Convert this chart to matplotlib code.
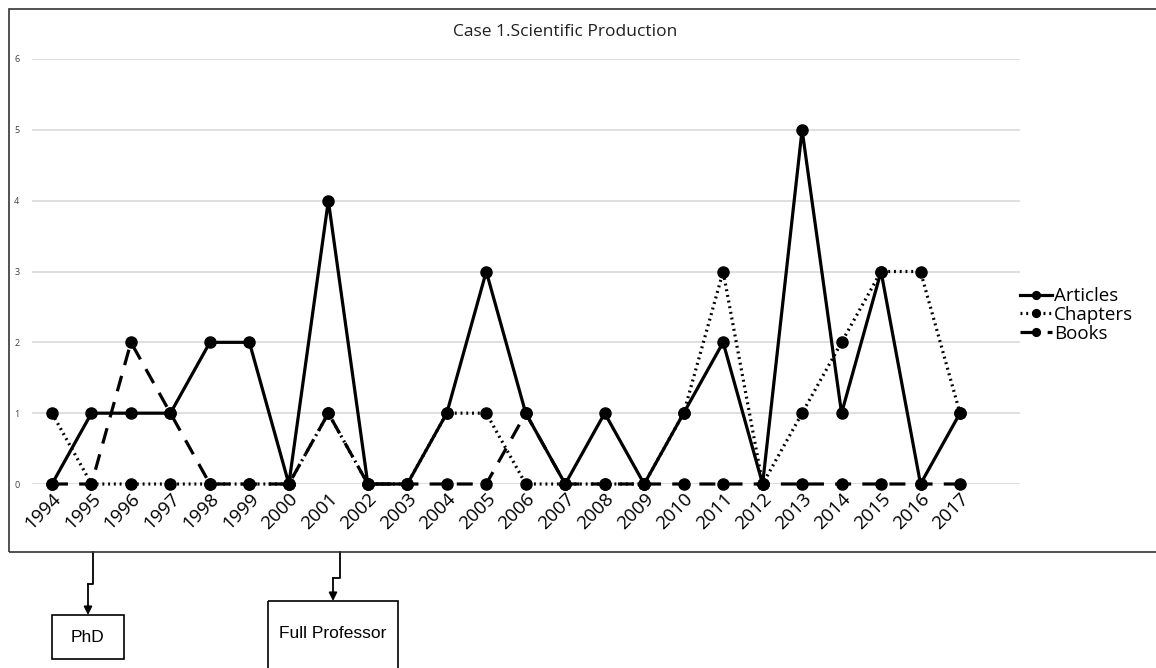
import matplotlib
matplotlib.use("Agg")
import matplotlib.pyplot as plt
from matplotlib.patches import Rectangle
import numpy as np

years    = list(range(1994, 2018))
articles = [0, 1, 1, 1, 2, 2, 0, 4, 0, 0, 1, 3, 1, 0, 1, 0, 1, 2, 0, 5, 1, 3, 0, 1]
chapters = [1, 0, 0, 0, 0, 0, 0, 1, 0, 0, 1, 1, 0, 0, 0, 0, 1, 3, 0, 1, 2, 3, 3, 1]
books    = [0, 0, 2, 1, 0, 0, 0, 1, 0, 0, 0, 0, 1, 0, 0, 0, 0, 0, 0, 0, 0, 0, 0, 0]
y_ticks  = [0, 1, 2, 3, 4, 5, 6]

W, H = 1156, 668
fig = plt.figure(figsize=(W / 100, H / 100), dpi=100)

# pixel helpers
def fx(px): return px / W
def fy(py): return 1 - py / H

# plot area: gridlines from x=32 to 1020, y0 at 484, y6 at 59
ax = fig.add_axes([fx(32), fy(484), fx(1020) - fx(32), fy(59) - fy(484)])
step = (960 - 52) / 23
ax.set_xlim(1994 - 20 / step, 1994 + (1020 - 52) / step)
ax.set_ylim(0, 6)

lw, ms = 2.3, 8
ax.plot(years, articles, color="black", lw=lw, marker="o", ms=ms, label="Articles",
        clip_on=False, zorder=5)
ax.plot(years, chapters, color="black", lw=lw, linestyle=(0, (0.6, 1.2)), marker="o", ms=ms,
        label="Chapters", clip_on=False, zorder=4)
ax.plot(years, books, color="black", lw=lw, linestyle=(0, (5, 3.5)), marker="o", ms=ms,
        label="Books", clip_on=False, zorder=3)

for s in ax.spines.values():
    s.set_visible(False)
ax.set_yticks(y_ticks)
ax.set_xticks(years)
ax.grid(axis="y", color="#d9d9d9", lw=1.2)
ax.set_axisbelow(True)
ax.tick_params(length=0)
ax.tick_params(axis="y", labelsize=6.5, pad=9, labelcolor="#404040")
ax.tick_params(axis="x", labelsize=13.5, pad=4)
plt.setp(ax.get_xticklabels(), rotation=45, ha="right", va="top", rotation_mode="anchor",
         family="Open Sans")
plt.setp(ax.get_yticklabels(), family="Open Sans")

fig.text(fx(565), fy(32), "Case 1.Scientific Production", ha="center", va="center",
         fontsize=12.5, family="Open Sans", color="#202020")

leg = ax.legend(loc="center left", bbox_to_anchor=(fx(1003), fy(315)),
                bbox_transform=fig.transFigure, frameon=False, handlelength=1.7,
                handletextpad=0.1, labelspacing=0.05, markerscale=0.7,
                prop={"family": "Open Sans", "size": 13.5})

# outer chart border
fig.patches.append(Rectangle((fx(9), fy(552)), 1.2, fy(9) - fy(552), transform=fig.transFigure,
                             fill=False, edgecolor="#333333", lw=1.2, zorder=10))

# annotation layer in pixel coordinates
ov = fig.add_axes([0, 0, 1, 1])
ov.set_xlim(0, W)
ov.set_ylim(H, 0)
ov.axis("off")

def step_arrow(x0, y0, ymid, x1, y1):
    ov.plot([x0, x0, x1], [y0, ymid, ymid], color="black", lw=1.3)
    ov.annotate("", xy=(x1, y1), xytext=(x1, ymid),
                arrowprops=dict(arrowstyle="-|>", color="black", lw=1.3, mutation_scale=12,
                                shrinkA=0, shrinkB=0))

step_arrow(93, 552, 584, 88, 615)
step_arrow(340, 552, 578, 333, 601)

ov.add_patch(Rectangle((52, 615), 72, 44, fill=False, edgecolor="black", lw=1.2))
ov.text(88, 637, "PhD", ha="center", va="center", fontsize=12.5, family="Liberation Sans")
ov.add_patch(Rectangle((268, 601), 130, 80, fill=False, edgecolor="black", lw=1.2,
                       clip_on=True))
ov.text(333, 634, "Full Professor", ha="center", va="center", fontsize=12.5,
        family="Liberation Sans")

fig.savefig("out.png", dpi=100)
